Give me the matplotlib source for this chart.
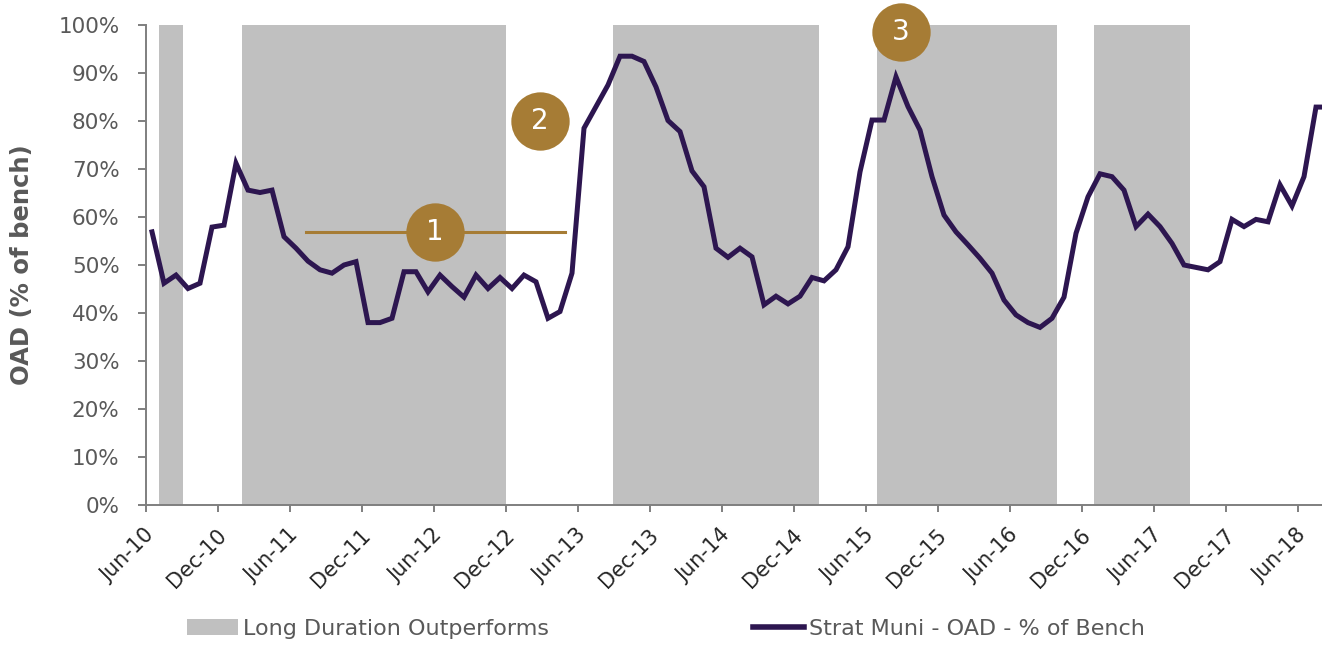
import matplotlib.pyplot as plt
import matplotlib.transforms as mtransforms
from matplotlib.patches import Patch
from matplotlib.lines import Line2D
import numpy as np

# monthly OAD as % of benchmark, starting Jun-10
oad = [56.9, 46.2, 47.9, 45.1, 46.2, 57.9, 58.3, 71.2, 65.6, 65.1,
       65.6, 55.9, 53.5, 50.8, 49.0, 48.3, 50.0, 50.7, 38.0, 38.0,
       38.9, 48.6, 48.6, 44.4, 47.9, 45.5, 43.3, 47.9, 45.1, 47.4,
       45.1, 47.9, 46.5, 38.9, 40.3, 48.3, 78.5, 83.0, 87.5, 93.5,
       93.5, 92.4, 87.1, 80.1, 77.8, 69.6, 66.3, 53.5, 51.6, 53.5,
       51.7, 41.7, 43.5, 41.9, 43.5, 47.4, 46.7, 49.0, 53.8, 69.4,
       80.2, 80.2, 89.2, 83.0, 78.1, 68.4, 60.4, 56.9, 54.2, 51.4,
       48.3, 42.7, 39.6, 38.0, 37.0, 38.9, 43.3, 56.6, 64.2, 69.0,
       68.4, 65.6, 58.0, 60.6, 58.0, 54.5, 50.0, 49.5, 49.0, 50.7,
       59.5, 58.0, 59.5, 59.0, 66.7, 62.3, 68.4, 82.9, 82.9]

# long duration outperforms periods (months after Jun-10)
band_start = [1.1, 8.0, 38.95, 60.95, 79.0]
band_end = [3.1, 30.0, 56.1, 75.9, 87.0]

tick_labels = ["Jun-10", "Dec-10", "Jun-11", "Dec-11", "Jun-12", "Dec-12",
               "Jun-13", "Dec-13", "Jun-14", "Dec-14", "Jun-15", "Dec-15",
               "Jun-16", "Dec-16", "Jun-17", "Dec-17", "Jun-18"]

line_col = "#2D1650"
band_col = "#C0C0C0"
gold = "#A67C35"
txt_col = "#595959"

fig = plt.figure(figsize=(13.22, 6.45), dpi=100)
ax = fig.add_axes([146/1322, 140/645, 1176/1322, 480/645])

for s, e in zip(band_start, band_end):
    ax.axvspan(s, e, color=band_col, lw=0, zorder=1)

x = np.arange(len(oad)) + 0.5
ax.plot(x, np.array(oad)/100, color=line_col, lw=3.6, zorder=3,
        solid_joinstyle='miter')

# annotation markers
ax.plot([13.35, 34.9], [0.569, 0.569], color=gold, lw=2.2, zorder=4)
for cx, cy, lab in [(24.1, 0.569, "1"), (32.8, 0.80, "2"), (62.9, 0.985, "3")]:
    ax.plot(cx, cy, 'o', ms=42, color=gold, mec='none', zorder=5, clip_on=False)
    ax.text(cx, cy, lab, color='white', fontsize=20, ha='center', va='center',
            zorder=6)

ax.set_xlim(0, 98)
ax.set_ylim(0, 1.0)
ax.set_yticks(np.arange(0, 1.01, 0.1))
ax.set_yticklabels([f"{int(round(v*100))}%" for v in np.arange(0, 1.01, 0.1)])
ax.set_xticks(np.arange(0, 97, 6))
ax.set_xticklabels(tick_labels, rotation=45, ha='right', va='center',
                   rotation_mode='anchor')

for sp in ['top', 'right']:
    ax.spines[sp].set_visible(False)
for sp in ['left', 'bottom']:
    ax.spines[sp].set_color('#7F7F7F')
    ax.spines[sp].set_linewidth(1.4)
    ax.spines[sp].set_zorder(2)

ax.tick_params(axis='y', length=6, width=1.4, color='#7F7F7F', pad=13,
               labelsize=15.5, labelcolor=txt_col)
ax.tick_params(axis='x', length=5, width=1.4, color='#7F7F7F', pad=2,
               labelsize=15, labelcolor='#262626')

off = mtransforms.ScaledTranslation(5/100, -17/100, fig.dpi_scale_trans)
for lbl in ax.get_xticklabels():
    lbl.set_transform(lbl.get_transform() + off)

ax.set_ylabel("OAD (% of bench)", fontsize=17.5, fontweight='bold',
              color=txt_col)
ax.yaxis.set_label_coords(-0.095, 0.5)

handles = [Patch(facecolor=band_col, edgecolor='none'),
           Line2D([], [], color=line_col, lw=4)]
fig.legend(handles, ["Long Duration Outperforms", "Strat Muni - OAD - % of Bench"],
           loc='center left', bbox_to_anchor=(187/1322, 1 - 629/645), ncol=2,
           frameon=False, fontsize=16, labelcolor=txt_col, handlelength=2.3,
           handletextpad=0.2, columnspacing=9.2, borderpad=0, borderaxespad=0)

fig.savefig("out.png", dpi=100)
